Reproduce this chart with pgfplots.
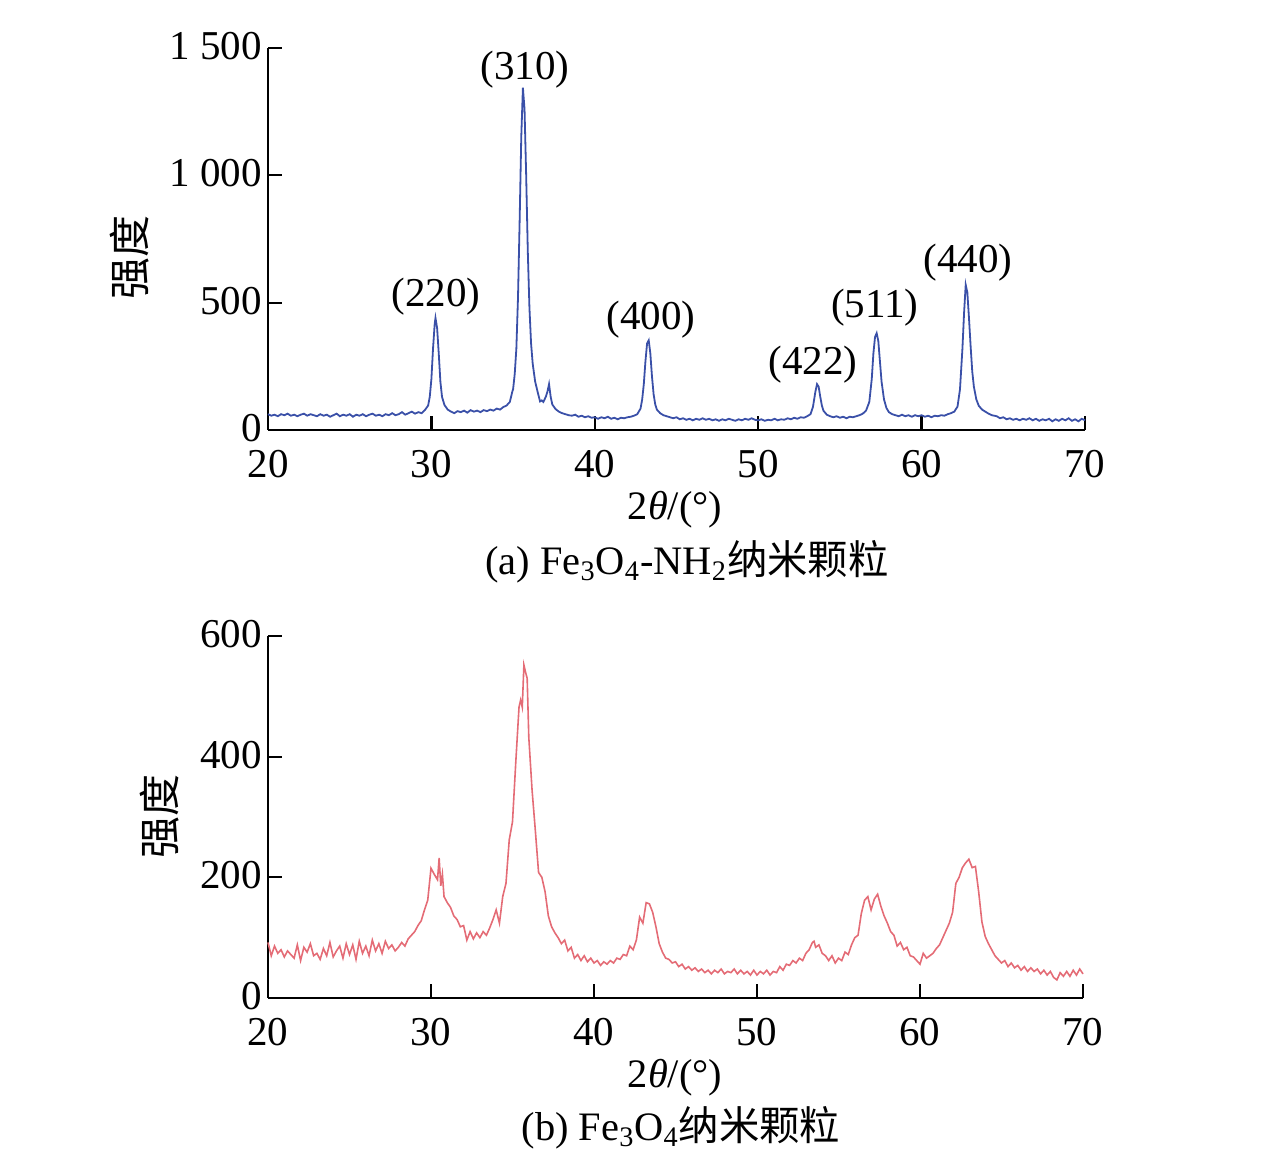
\documentclass[border=0pt]{standalone}
\usepackage{fontspec}
\setmainfont{Liberation Serif}
\newfontfamily\cjk{Noto Sans CJK SC}
\usepackage{pgfplots}
\pgfplotsset{compat=1.18}
\definecolor{xrdblue}{RGB}{58,80,168}
\definecolor{xrdred}{RGB}{228,108,118}
\newcommand{\fs}{\fontsize{20.5}{24}\selectfont}
\newcommand{\fc}{\fontsize{20.2}{24}\selectfont}
\begin{document}
\begin{tikzpicture}
\path[use as bounding box] (0pt,0pt) rectangle (638pt,579.5pt);
\pgfplotsset{
  myax/.style={
    scale only axis,
    axis lines=left,
    axis line style={-, line width=1.1pt, black},
    major tick style={line width=1.1pt, black},
    major tick length=7pt,
    tick align=inside,
    xmin=20, xmax=70,
    xtick={20,30,40,50,60,70},
    xticklabels={20,30,40,50,60,70},
    every tick label/.append style={font=\fs},
    xticklabel style={yshift=-6.5pt},
    yticklabel style={xshift=0.5pt, yshift=1pt},
    clip=false,
  }
}
% ---------------- top panel ----------------
\begin{axis}[myax, at={(134pt,364.5pt)}, anchor=south west, width=408.5pt, height=191pt,
  ymin=0, ymax=1500, ytick={0,500,1000,1500}, yticklabels={0,500,1 000,1 500}]
\addplot[xrdblue, line width=0.9pt] coordinates {
(20.0,62)(20.2,56)(20.4,60)(20.6,54)(20.8,62)(21.0,58)(21.2,64)(21.4,56)(21.6,60)(21.8,54)
(22.0,60)(22.2,64)(22.4,56)(22.6,62)(22.8,58)(23.0,54)(23.2,62)(23.4,56)(23.6,60)(23.8,52)
(24.0,58)(24.2,64)(24.4,54)(24.6,60)(24.8,56)(25.0,62)(25.2,52)(25.4,60)(25.6,56)(25.8,62)
(26.0,54)(26.2,60)(26.4,64)(26.6,56)(26.8,60)(27.0,54)(27.2,62)(27.4,58)(27.6,66)(27.8,58)
(28.0,62)(28.2,70)(28.4,60)(28.6,66)(28.8,72)(29.0,64)(29.2,70)(29.4,66)(29.6,78)(29.8,96)
(29.9,130)(30.0,200)(30.1,320)(30.2,415)(30.25,440)(30.35,400)(30.45,300)(30.55,190)(30.65,130)(30.8,98)
(31.0,80)(31.2,72)(31.4,66)(31.6,74)(31.8,70)(32.0,76)(32.2,68)(32.4,78)(32.6,72)(32.8,76)
(33.0,70)(33.2,78)(33.4,74)(33.6,80)(33.8,76)(34.0,84)(34.2,80)(34.4,90)(34.6,96)(34.8,110)
(34.95,150)(35.0,160)(35.1,220)(35.2,320)(35.3,520)(35.4,820)(35.5,1150)(35.6,1344)(35.7,1260)(35.8,1000)
(35.9,700)(36.0,480)(36.1,340)(36.2,260)(36.35,190)(36.5,150)(36.65,112)(36.75,116)(36.85,110)(37.0,130)
(37.1,150)(37.2,180)(37.3,130)(37.4,100)(37.6,82)(37.8,72)(38.0,66)(38.2,62)(38.4,58)(38.6,56)
(38.8,60)(39.0,52)(39.2,56)(39.4,50)(39.6,54)(39.8,48)(40.0,50)(40.2,44)(40.4,50)(40.6,46)
(40.8,52)(41.0,44)(41.2,48)(41.4,42)(41.6,48)(41.8,46)(42.0,50)(42.2,52)(42.4,56)(42.6,62)
(42.8,84)(42.9,120)(43.0,180)(43.1,270)(43.2,340)(43.3,352)(43.4,300)(43.5,210)(43.6,140)(43.7,100)
(43.8,80)(44.0,66)(44.2,58)(44.4,54)(44.6,50)(44.8,46)(45.0,50)(45.2,42)(45.4,46)(45.6,40)
(45.8,44)(46.0,38)(46.2,44)(46.4,40)(46.6,46)(46.8,40)(47.0,44)(47.2,38)(47.4,42)(47.6,36)
(47.8,42)(48.0,38)(48.2,44)(48.4,40)(48.6,36)(48.8,42)(49.0,38)(49.2,44)(49.4,40)(49.6,46)
(49.8,40)(50.0,38)(50.2,42)(50.4,36)(50.6,40)(50.8,38)(51.0,44)(51.2,38)(51.4,42)(51.6,40)
(51.8,46)(52.0,42)(52.2,48)(52.4,44)(52.6,50)(52.8,48)(53.0,54)(53.2,62)(53.35,90)(53.5,150)
(53.6,180)(53.7,170)(53.8,130)(53.9,95)(54.0,75)(54.2,60)(54.4,54)(54.6,50)(54.8,54)(55.0,48)
(55.2,52)(55.4,46)(55.6,52)(55.8,50)(56.0,54)(56.2,58)(56.4,64)(56.6,76)(56.8,110)(56.95,200)
(57.05,300)(57.15,365)(57.25,380)(57.35,350)(57.45,270)(57.55,190)(57.7,120)(57.85,86)(58.0,70)(58.2,62)
(58.4,58)(58.6,54)(58.8,60)(59.0,54)(59.2,58)(59.4,52)(59.6,58)(59.8,54)(60.0,58)(60.2,52)
(60.4,56)(60.6,50)(60.8,56)(61.0,54)(61.2,58)(61.4,56)(61.6,62)(61.8,66)(62.0,72)(62.2,92)
(62.35,160)(62.5,320)(62.6,460)(62.7,570)(62.8,540)(62.9,440)(63.0,330)(63.1,230)(63.2,170)(63.35,120)
(63.5,95)(63.7,80)(63.9,72)(64.1,64)(64.3,58)(64.6,54)(64.8,46)(65.0,50)(65.2,42)(65.4,46)
(65.6,40)(65.8,44)(66.0,38)(66.2,44)(66.4,40)(66.6,46)(66.8,38)(67.0,44)(67.2,36)(67.4,42)
(67.6,38)(67.8,44)(68.0,34)(68.2,42)(68.4,36)(68.6,44)(68.8,38)(69.0,46)(69.2,36)(69.4,42)
(69.6,34)(69.8,44)(70.0,38)
};
\node[font=\fs] at (axis cs:30.28,522) {(220)};
\node[font=\fs] at (axis cs:35.73,1414) {(310)};
\node[font=\fs] at (axis cs:43.44,432) {(400)};
\node[font=\fs] at (axis cs:53.35,255) {(422)};
\node[font=\fs] at (axis cs:57.14,479) {(511)};
\node[font=\fs] at (axis cs:62.83,656) {(440)};
\end{axis}
% ---------------- bottom panel ----------------
\begin{axis}[myax, at={(134pt,80.5pt)}, anchor=south west, width=407.5pt, height=181pt,
  ymin=0, ymax=600, ytick={0,200,400,600}, yticklabels={0,200,400,600}]
\addplot[xrdred, line width=0.8pt] coordinates {
(20.0,92)(20.2,70)(20.4,86)(20.6,74)(20.8,80)(21.0,68)(21.2,78)(21.4,72)(21.6,66)(21.8,88)
(22.0,62)(22.2,84)(22.4,76)(22.6,90)(22.8,70)(23.0,74)(23.2,64)(23.4,82)(23.6,70)(23.8,92)
(24.0,68)(24.2,78)(24.4,86)(24.6,66)(24.8,90)(25.0,72)(25.2,88)(25.4,64)(25.6,94)(25.8,74)
(26.0,86)(26.2,70)(26.4,96)(26.6,78)(26.8,90)(27.0,74)(27.2,94)(27.4,82)(27.6,88)(27.8,78)
(28.0,84)(28.2,92)(28.4,86)(28.6,98)(28.8,104)(29.0,110)(29.2,120)(29.4,128)(29.6,146)(29.8,162)
(30.0,215)(30.2,205)(30.4,196)(30.5,232)(30.6,186)(30.7,205)(30.8,168)(31.0,158)(31.2,150)(31.4,136)
(31.6,130)(31.8,118)(32.0,120)(32.2,96)(32.4,110)(32.6,98)(32.8,108)(33.0,100)(33.2,110)(33.4,104)
(33.6,116)(33.8,130)(34.0,146)(34.2,124)(34.4,168)(34.6,190)(34.8,262)(35.0,292)(35.2,390)(35.4,482)
(35.5,494)(35.6,482)(35.7,552)(35.8,540)(35.9,530)(36.0,432)(36.2,345)(36.4,278)(36.6,208)(36.8,200)
(37.0,176)(37.2,136)(37.4,118)(37.6,108)(37.8,100)(38.0,90)(38.2,96)(38.4,78)(38.6,84)(38.8,66)
(39.0,72)(39.2,62)(39.4,70)(39.6,60)(39.8,66)(40.0,58)(40.2,62)(40.4,54)(40.6,60)(40.8,56)
(41.0,62)(41.2,58)(41.4,66)(41.6,64)(41.8,72)(42.0,70)(42.2,86)(42.4,80)(42.6,96)(42.8,134)
(43.0,124)(43.2,158)(43.4,156)(43.6,142)(43.8,118)(44.0,90)(44.2,76)(44.4,66)(44.6,64)(44.8,58)
(45.0,60)(45.2,52)(45.4,56)(45.6,48)(45.8,52)(46.0,46)(46.2,50)(46.4,44)(46.6,48)(46.8,42)
(47.0,46)(47.2,40)(47.4,46)(47.6,42)(47.8,48)(48.0,40)(48.2,44)(48.4,42)(48.6,48)(48.8,40)
(49.0,46)(49.2,40)(49.4,44)(49.6,38)(49.8,46)(50.0,38)(50.2,44)(50.4,40)(50.6,46)(50.8,38)
(51.0,44)(51.2,42)(51.4,52)(51.6,46)(51.8,56)(52.0,54)(52.2,62)(52.4,58)(52.6,66)(52.8,62)
(53.0,74)(53.2,80)(53.4,92)(53.5,94)(53.6,84)(53.8,88)(54.0,74)(54.2,70)(54.4,62)(54.6,70)
(54.8,58)(55.0,66)(55.2,62)(55.4,76)(55.6,72)(55.8,88)(56.0,100)(56.2,104)(56.4,140)(56.6,162)
(56.8,168)(57.0,146)(57.2,164)(57.4,172)(57.6,152)(57.8,136)(58.0,124)(58.2,110)(58.4,104)(58.6,86)
(58.8,92)(59.0,80)(59.2,84)(59.4,70)(59.6,68)(59.8,62)(60.0,56)(60.2,74)(60.4,66)(60.6,70)
(60.8,74)(61.0,82)(61.2,88)(61.4,100)(61.6,112)(61.8,124)(62.0,142)(62.2,190)(62.4,200)(62.6,216)
(62.8,224)(63.0,230)(63.2,216)(63.4,218)(63.6,176)(63.8,126)(64.0,102)(64.2,90)(64.4,80)(64.6,70)
(64.8,64)(65.0,58)(65.2,62)(65.4,52)(65.6,58)(65.8,50)(66.0,54)(66.2,46)(66.4,52)(66.6,44)
(66.8,50)(67.0,44)(67.2,48)(67.4,40)(67.6,46)(67.8,38)(68.0,44)(68.2,34)(68.4,30)(68.6,42)
(68.8,36)(69.0,44)(69.2,36)(69.4,46)(69.6,38)(69.8,48)(70.0,40)
};
\end{axis}
% ---------------- labels ----------------
\node[font={\fontsize{21}{24}\selectfont\cjk}, rotate=90] at (65pt,450.5pt) {强度};
\node[font={\fontsize{21}{24}\selectfont\cjk}, rotate=90] at (80pt,171pt) {强度};
\node[font=\fc] at (337.5pt,324.5pt) {2{\itshape θ}/(°)};
\node[font=\fc] at (337.5pt,40.5pt) {2{\itshape θ}/(°)};
\node[font=\fc] at (343.5pt,298.5pt) {(a) Fe\textsubscript{3}O\textsubscript{4}-NH\textsubscript{2}{\cjk 纳米颗粒}};
\node[font=\fc] at (340.5pt,15.5pt) {(b) Fe\textsubscript{3}O\textsubscript{4}{\cjk 纳米颗粒}};
\end{tikzpicture}
\end{document}
